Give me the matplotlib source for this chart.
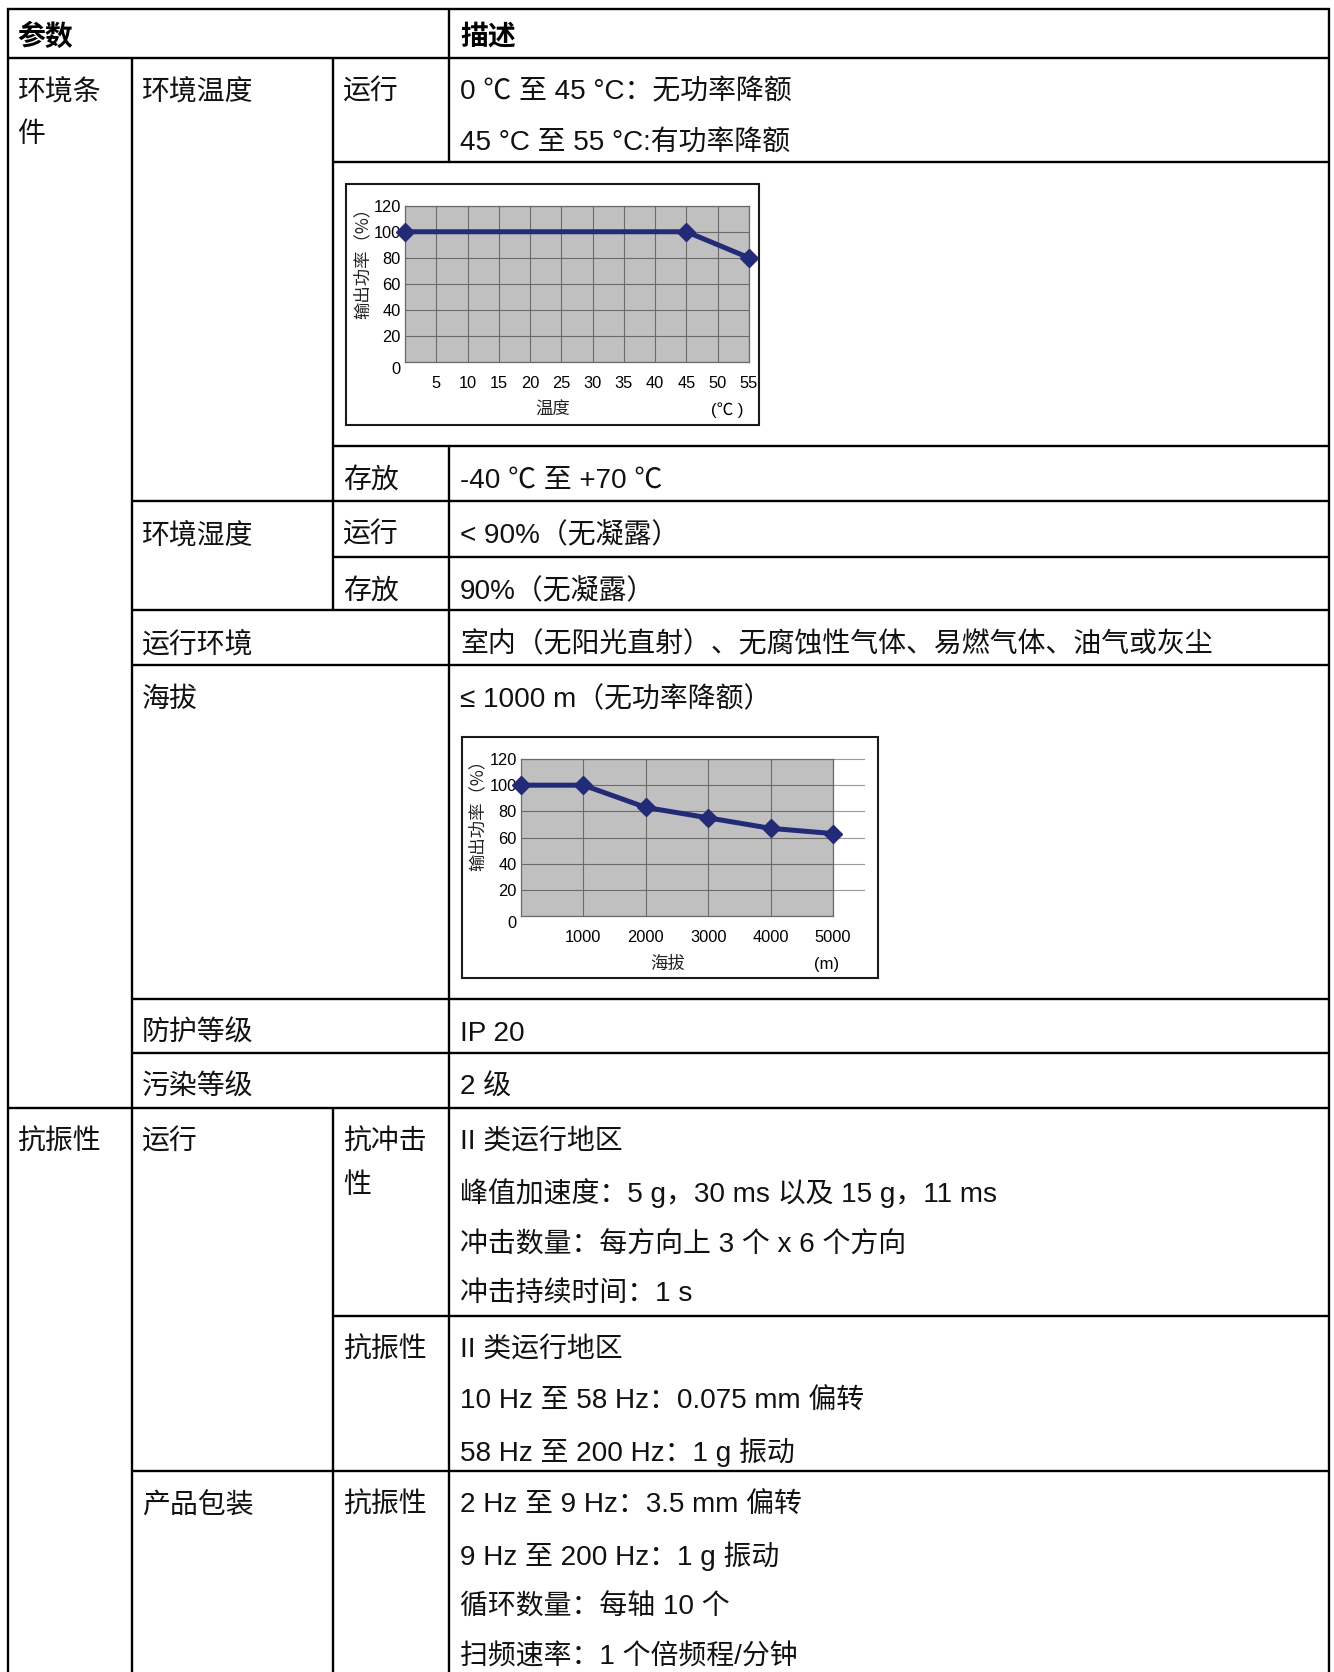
import matplotlib
matplotlib.use('Agg')
import matplotlib.pyplot as plt
import matplotlib.patches as patches

# ── fonts ─────────────────────────────────────────────
TXT_FONT   = ['Liberation Sans', 'Noto Sans CJK SC', 'DejaVu Sans']
TICK_FONT  = ['Liberation Sans Narrow', 'Liberation Sans', 'Noto Sans CJK SC']
CJK_FONT   = ['Noto Sans CJK SC', 'DejaVu Sans']
plt.rcParams['font.family'] = TXT_FONT
plt.rcParams['axes.unicode_minus'] = False

# ── data: derating curves ─────────────────────────────
temp_x      = [0, 45, 55]
temp_power  = [100, 100, 80]
temp_ticks  = [5, 10, 15, 20, 25, 30, 35, 40, 45, 50, 55]

alt_x       = [0, 1000, 2000, 3000, 4000, 5000]
alt_power   = [100, 100, 83, 75, 67, 63]
alt_ticks   = [1000, 2000, 3000, 4000, 5000]

power_ticks = [0, 20, 40, 60, 80, 100, 120]

# ── data: table text ──────────────────────────────────
header_texts = ["参数", "描述"]

col1_texts = ["环境条\n件", "抗振性"]
col2_texts = ["环境温度", "环境湿度", "运行环境", "海拔",
              "防护等级", "污染等级", "运行", "产品包装"]
col3_texts = ["运行", "存放", "运行", "存放",
              "抗冲击\n性", "抗振性", "抗振性"]
desc_texts = [
    "0 ℃ 至 45 °C：无功率降额\n45 °C 至 55 °C:有功率降额",
    "-40 ℃ 至 +70 ℃",
    "< 90%（无凝露）",
    "90%（无凝露）",
    "室内（无阳光直射）、无腐蚀性气体、易燃气体、油气或灰尘",
    "≤ 1000 m（无功率降额）",
    "IP 20",
    "2 级",
    "II 类运行地区\n峰值加速度：5 g，30 ms 以及 15 g，11 ms\n"
    "冲击数量：每方向上 3 个 x 6 个方向\n冲击持续时间：1 s",
    "II 类运行地区\n10 Hz 至 58 Hz：0.075 mm 偏转\n58 Hz 至 200 Hz：1 g 振动",
    "2 Hz 至 9 Hz：3.5 mm 偏转\n9 Hz 至 200 Hz：1 g 振动\n"
    "循环数量：每轴 10 个\n扫频速率：1 个倍频程/分钟",
]

# ── layout (pixels of the 1334x1672 page) ─────────────
W, H = 1334, 1672
COL_X   = [7.5, 132, 333, 449, 1329]
TOP_Y   = 8.5
HEAD_Y  = 57.6

# row tops that carry text in each column
col1_rows = [57.6, 1108]
col2_rows = [57.6, 501, 610, 665, 999, 1053, 1108, 1471]
col3_rows = [57.6, 446, 501, 557, 1108, 1316, 1471]
desc_rows = [57.6, 446, 501, 557, 610, 665, 999, 1053, 1108, 1316, 1471]

h_lines = [  # y, x0, x1
    (TOP_Y, 7.5, 1329), (HEAD_Y, 7.5, 1329),
    (162, 333, 1329), (446, 333, 1329), (501, 132, 1329),
    (557, 333, 1329), (610, 132, 1329), (665, 132, 1329),
    (999, 132, 1329), (1053, 132, 1329), (1108, 7.5, 1329),
    (1316, 333, 1329), (1471, 132, 1329),
]
v_lines = [  # x, y0, y1
    (7.5, TOP_Y, H), (132, HEAD_Y, H),
    (333, HEAD_Y, 610), (333, 1108, H),
    (449, TOP_Y, 162), (449, 446, H),
    (1329, TOP_Y, H),
]

FS        = 20.1
LINE_DESC = 50.5
LINE_WRAP = 42.6
PAD_X     = 10
FIRST_DY  = 35

fig = plt.figure(figsize=(W / 100, H / 100), dpi=100)
tab = fig.add_axes([0, 0, 1, 1])
tab.set_xlim(0, W)
tab.set_ylim(H, 0)
tab.axis('off')

for y, x0, x1 in h_lines:
    tab.plot([x0 - 1, x1 + 1], [y, y], color='black', lw=1.7,
             solid_capstyle='butt')
for x, y0, y1 in v_lines:
    tab.plot([x, x], [y0 - 1, y1 + 1], color='black', lw=1.7,
             solid_capstyle='butt')

# header
tab.text(COL_X[0] + PAD_X, 37, header_texts[0], fontsize=FS,
         fontweight='bold', va='center', ha='left')
tab.text(COL_X[3] + PAD_X + 1, 37, header_texts[1], fontsize=FS,
         fontweight='bold', va='center', ha='left')


def put_cell(col, top, text, spacing):
    for i, line in enumerate(text.split("\n")):
        tab.text(COL_X[col] + PAD_X + (1 if col == 3 else 0),
                 top + FIRST_DY + i * spacing, line,
                 fontsize=FS, va='center', ha='left', color='#111111')


for top, t in zip(col1_rows, col1_texts):
    put_cell(0, top, t, LINE_WRAP)
for top, t in zip(col2_rows, col2_texts):
    put_cell(1, top, t, LINE_WRAP)
for top, t in zip(col3_rows, col3_texts):
    put_cell(2, top, t, LINE_WRAP)
for top, t in zip(desc_rows, desc_texts):
    put_cell(3, top, t, LINE_DESC)


# ── embedded charts ───────────────────────────────────
def px_axes(x0, y0, x1, y1):
    return fig.add_axes([x0 / W, 1 - y1 / H, (x1 - x0) / W, (y1 - y0) / H])


def draw_chart(box, area, xs, ys, xmax, xticks, xlabel, unit,
               xlab_fx, unit_fx, ylab_fx, ylab_fy, ext=None):
    bx0, by0, bx1, by1 = box
    tab.add_patch(patches.Rectangle((bx0, by0), bx1 - bx0, by1 - by0,
                                    fill=False, edgecolor='#1a1a1a', lw=1.5))
    ax = px_axes(*area)
    ax.set_facecolor('#c0c0c0')
    ax.set_xlim(0, xmax)
    ax.set_ylim(0, 120)
    ax.set_xticks(xticks)
    ax.set_yticks(power_ticks)
    ax.set_xticklabels([str(v) for v in xticks], family=TICK_FONT,
                       fontsize=11.8)
    ax.set_yticklabels([str(v) for v in power_ticks], family=TICK_FONT,
                       fontsize=11.8)
    ax.get_yticklabels()[0].set_va('top')
    ax.tick_params(length=0)
    ax.tick_params(axis='x', pad=10)
    ax.tick_params(axis='y', pad=3)
    ax.grid(True, color='#6a6a6a', lw=0.8)
    ax.set_axisbelow(True)
    for s in ax.spines.values():
        s.set_color('#6a6a6a')
        s.set_linewidth(0.9)
    if ext:
        for v in power_ticks[1:]:
            ax.axhline(v, xmin=1, xmax=ext, color='#9a9a9a', lw=0.8,
                       clip_on=False)
    ax.plot(xs, ys, color='#232a78', lw=3.6, marker='D', ms=9,
            clip_on=False, zorder=5)
    ax.text(xlab_fx, -0.307, xlabel, transform=ax.transAxes,
            family=CJK_FONT, fontsize=12.5, ha='center', va='center',
            color='#222222')
    ax.text(unit_fx, -0.307, unit, transform=ax.transAxes,
            family=TICK_FONT + ['Noto Sans CJK SC'], fontsize=12,
            ha='center', va='center')
    ax.text(ylab_fx, ylab_fy, "输出功率（%）", transform=ax.transAxes,
            family=CJK_FONT, fontsize=12.5, rotation=90,
            ha='center', va='center', color='#222222')
    return ax


draw_chart((345.7, 183.7, 759, 425), (405, 205.7, 749, 362),
           temp_x, temp_power, 55, temp_ticks, "温度", "(℃ )",
           0.43, 0.936, -0.122, 0.66)
draw_chart((462, 737, 878, 978), (521, 759, 833, 916),
           alt_x, alt_power, 5000, alt_ticks, "海拔", "(m)",
           0.47, 0.98, -0.138, 0.67, ext=1.099)

fig.savefig('out.png', dpi=100, facecolor='white')
